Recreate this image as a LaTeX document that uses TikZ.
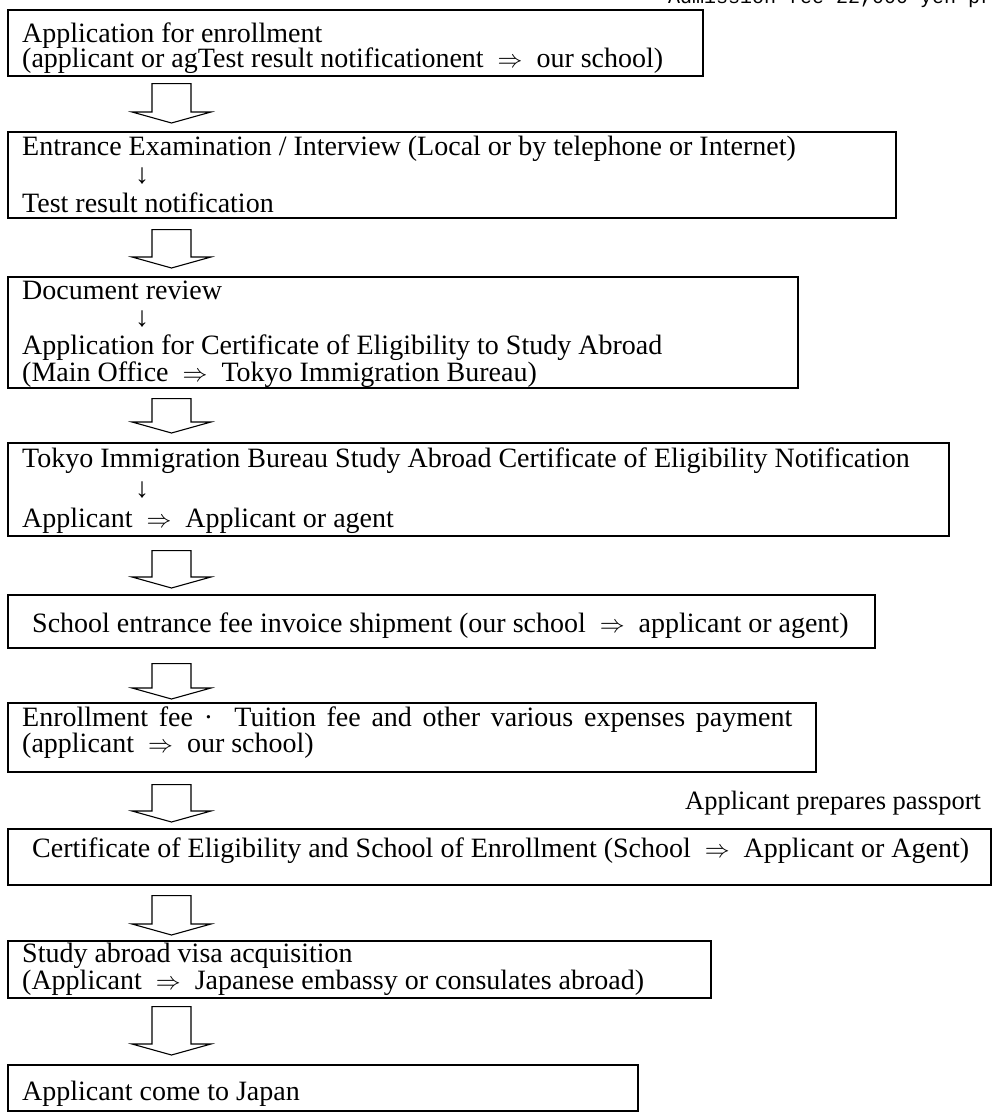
\documentclass[tikz,border=0pt]{standalone}
\usepackage{fontspec}
\setmainfont{Liberation Serif}
\newfontfamily\feefont{Liberation Mono}
\usetikzlibrary{positioning, calc}
\definecolor{clrborder}{HTML}{000000}
\definecolor{clrtext}{HTML}{000000}
\lineskiplimit=-20pt
\newcommand{\boxstrut}{\rule{0pt}{20pt}}
\newcommand{\givesto}{\enspace$\Rightarrow$\enspace}
% hollow block arrow: from box, to box, gap below #1, gap above #2
\newcommand{\flowarrow}[4]{%
  \draw[flowline] let \p1=(#1.south west), \p2=(#2.north west) in
    (\x1+145pt,\y1-#3pt) -- (\x1+145pt,\y2+#4pt+11pt) -- (\x1+125pt,\y2+#4pt+11pt)
    -- (\x1+164.5pt,\y2+#4pt) -- (\x1+204pt,\y2+#4pt+11pt) -- (\x1+184pt,\y2+#4pt+11pt)
    -- (\x1+184pt,\y1-#3pt) -- cycle;}

\begin{document}
\begin{tikzpicture}[
    x=1pt, y=-1pt,
    stepbox/.style={draw=clrborder, line width=1.6pt, inner sep=0, anchor=north west},
    flowline/.style={draw=clrborder, line width=1.1pt, line join=miter},
    txt/.style={text=clrtext, inner sep=0, anchor=north west, align=left,
                font=\fontsize{28}{#1}\selectfont},
    note/.style={text=clrtext, inner sep=0, anchor=base west,
                 font=\fontsize{26.5}{30}\selectfont},
]
\useasboundingbox (0,0) rectangle (992,1118);
\node[anchor=base west, inner sep=0, text=clrtext, font=\feefont\fontsize{20}{24}\selectfont] (fee) at (668,4) {Admission fee 22,000 yen pr};
% steps
\node[stepbox, minimum width=695, minimum height=66] (b1) at (7,9) {};
\node[stepbox, minimum width=888, minimum height=86] (b2) at (7,131) {};
\node[stepbox, minimum width=790, minimum height=111] (b3) at (7,276) {};
\node[stepbox, minimum width=941, minimum height=93] (b4) at (7,442) {};
\node[stepbox, minimum width=867, minimum height=53] (b5) at (7,594) {};
\node[stepbox, minimum width=808, minimum height=69] (b6) at (7,702) {};
\node[stepbox, minimum width=983, minimum height=56] (b7) at (7,828) {};
\node[stepbox, minimum width=703, minimum height=57] (b8) at (7,940) {};
\node[stepbox, minimum width=630, minimum height=46] (b9) at (7,1064) {};
% texts
\node[txt=25] (t1) at (22,22) {\boxstrut Application for enrollment\\(applicant or agTest result notificationent\givesto our school)};
\node[txt=28.5] (t2) at (22,135) {\boxstrut Entrance Examination / Interview (Local or by telephone or Internet)\\\hspace*{113pt}↓\\Test result notification};
\node[txt=27.5] (t3) at (22,279) {\boxstrut Document review\\\hspace*{113pt}↓\\Application for Certificate of Eligibility to Study Abroad\\(Main Office\givesto Tokyo Immigration Bureau)};
\node[txt=30] (t4) at (22,447) {\boxstrut Tokyo Immigration Bureau Study Abroad Certificate of Eligibility Notification\\\hspace*{113pt}↓\\Applicant\givesto Applicant or agent};
\node[txt=30] (t5) at (32,612) {\boxstrut School entrance fee invoice shipment (our school\givesto applicant or agent)};
\node[txt=26.5] (t6) at (22,706) {\boxstrut\makebox[770pt][s]{Enrollment fee · \ Tuition fee and other various expenses payment}\\(applicant\givesto our school)};
\node[txt=27] (t7) at (32,837) {\boxstrut Certificate of Eligibility and School of Enrollment (School\givesto Applicant or Agent)};
\node[txt=27] (t8) at (22,942) {\boxstrut Study abroad visa acquisition\\(Applicant\givesto Japanese embassy or consulates abroad)};
\node[txt=30] (t9) at (22,1080) {\boxstrut Applicant come to Japan};
\node[note] (passport) at (685,809) {Applicant prepares passport};
% block arrows
\flowarrow{b1}{b2}{7}{8}
\flowarrow{b2}{b3}{11}{8}
\flowarrow{b3}{b4}{10}{9}
\flowarrow{b4}{b5}{14}{6}
\flowarrow{b5}{b6}{15}{3}
\flowarrow{b6}{b7}{12}{6}
\flowarrow{b7}{b8}{10}{5}
\flowarrow{b8}{b9}{8}{9}
\end{tikzpicture}
\end{document}
